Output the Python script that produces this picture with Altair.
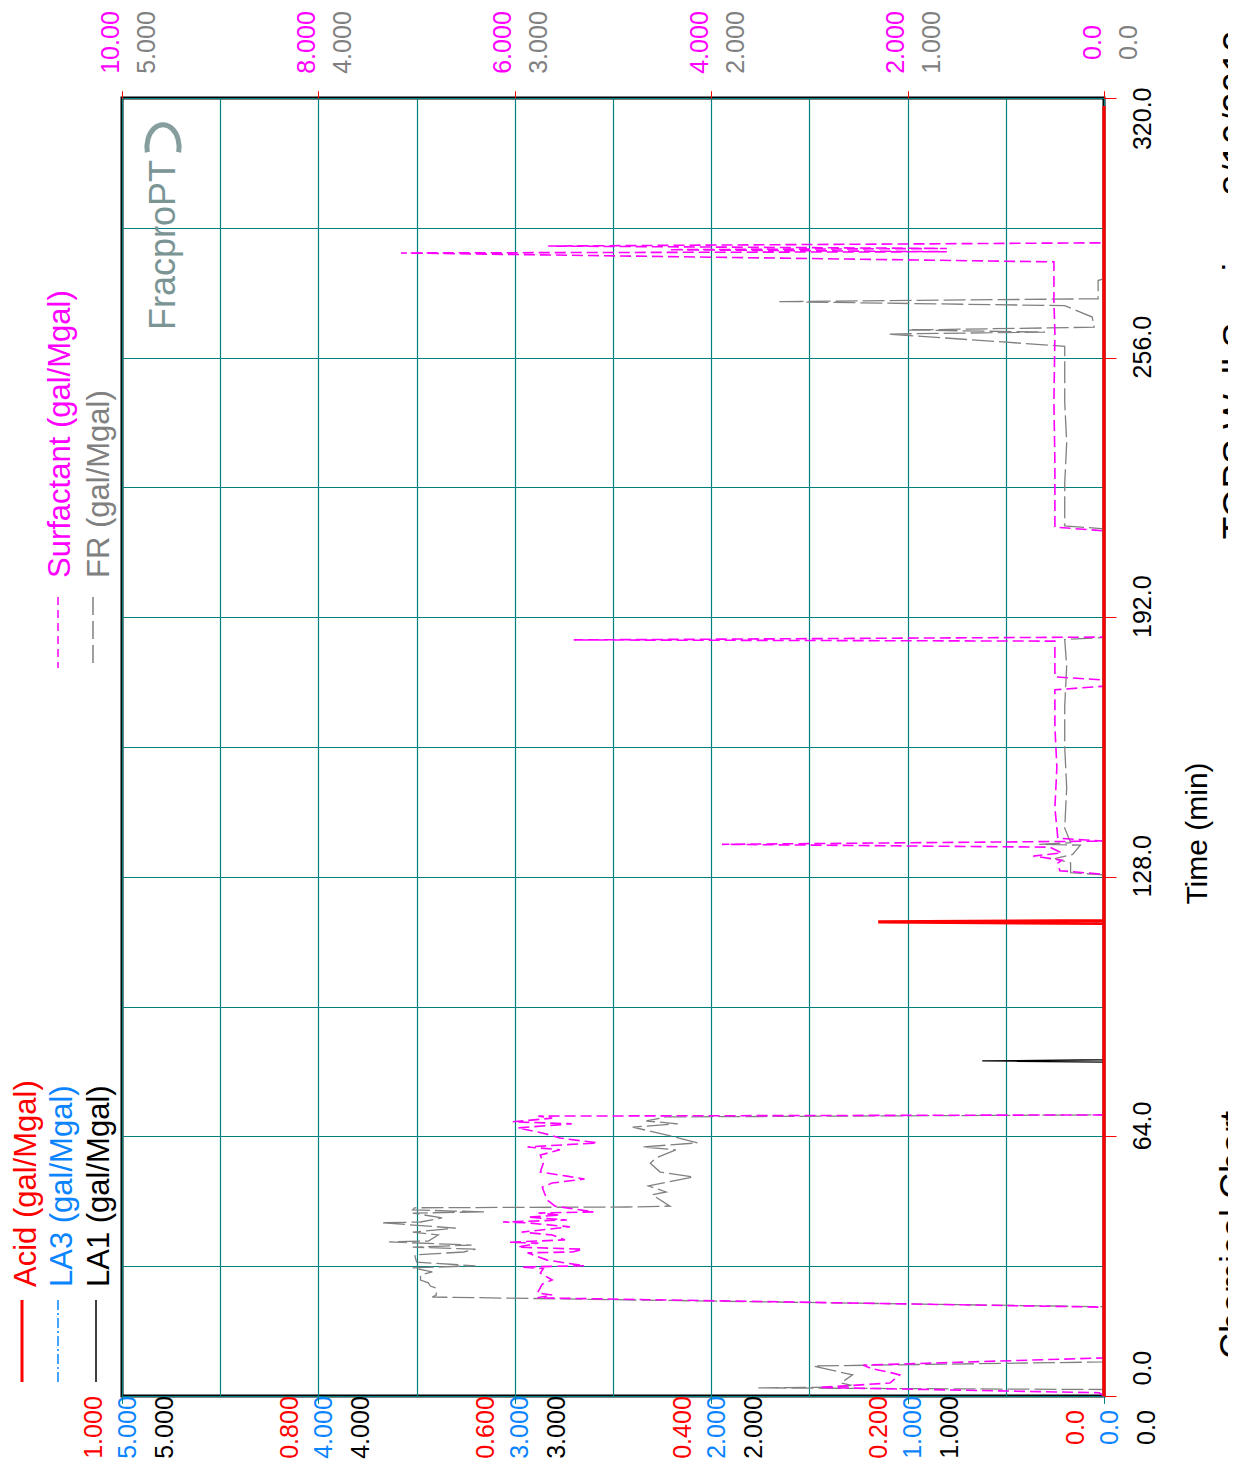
import altair as alt
import pandas as pd

FONT = "Liberation Sans, Arial, sans-serif"

# ---------------- data (time in minutes, value in gal/Mgal) ----------------
acid_t = [0.0, 116.5, 116.9, 117.2, 318.0]
acid_v = [0.0, 0.0, 0.23, 0.0, 0.0]

la3_t = [0.0, 116.2, 116.6, 117.3, 318.0]
la3_v = [0.0, 0.0, 0.06, 0.0, 0.0]

la1_t = [0.0, 82.3, 82.6, 82.9, 318.0]
la1_v = [0.0, 0.0, 0.62, 0.0, 0.0]

surf_t = [0.0, 0.8, 2.1, 3.2, 5.2, 5.7, 6.7, 7.6, 9.4, 21.9,
          24.2, 24.9, 25.4, 27.6, 28.6, 30.3, 31.4, 31.8, 32.1, 33.5,
          35.3, 35.5, 36.2, 36.7, 37.7, 37.9, 38.5, 39.7, 40.4, 41.7,
          42.7, 42.9, 43.4, 44.1, 44.6, 45.1, 45.4, 46.8, 48.3, 50.8,
          51.5, 52.5, 53.5, 54.2, 55.2, 57.4, 59.4, 60.7, 61.4, 62.4,
          63.6, 64.8, 66.1, 67.1, 67.6, 68.5, 69.0, 69.3,
          128.6, 129.5, 131.4, 132.1, 133.1, 133.9, 135.3, 136.0, 136.8, 137.5,
          145.0, 155.0, 165.0, 174.1, 175.0, 176.5, 177.3, 186.1, 186.4, 187.1,
          213.3, 214.2, 230.0, 245.0, 262.0, 270.0, 279.6, 281.8, 282.1, 282.6,
          282.9, 283.5, 284.3, 318.0]
surf_v = [0.0, 0.05, 2.90, 2.18, 2.08, 2.16, 2.36, 2.45, 0.0, 0.0,
          5.77, 5.62, 5.77, 5.72, 5.62, 5.74, 5.71, 5.93, 5.29, 5.67,
          5.87, 5.41, 5.31, 5.97, 5.76, 6.05, 5.49, 5.62, 5.93, 5.44,
          5.88, 6.12, 5.47, 5.87, 5.54, 5.76, 5.20, 5.59, 5.67, 5.71,
          5.72, 5.62, 5.29, 5.47, 5.74, 5.71, 5.74, 5.54, 5.87, 5.16,
          5.54, 5.71, 5.97, 5.42, 6.02, 5.62, 5.76, 0.0,
          0.0, 0.45, 0.47, 0.43, 0.72, 0.43, 0.55, 3.89, 0.0, 0.47,
          0.50, 0.48, 0.50, 0.50, 0.0, 0.0, 0.50, 0.50, 5.40, 0.0,
          0.0, 0.50, 0.50, 0.51, 0.50, 0.51, 0.51, 7.16, 1.60, 4.43,
          1.60, 5.66, 0.0, 0.0]

fr_t = [0.0, 1.6, 2.0, 2.2, 2.7, 3.2, 5.2, 7.4, 8.4, 22.0,
        24.4, 24.9, 26.6, 27.1, 27.9, 28.6, 29.8, 30.6, 31.6, 32.1,
        33.0, 34.8, 35.5, 36.2, 36.7, 37.2, 38.0, 38.2, 39.7, 40.4,
        41.4, 42.7, 42.9, 43.9, 45.1, 45.4, 45.6, 45.9, 46.4, 46.6,
        46.8, 49.6, 50.3, 51.8, 54.0, 55.2, 57.4, 58.7, 60.7, 61.4,
        62.4, 63.9, 66.3, 67.1, 67.8, 68.8, 69.3,
        128.5, 129.0, 131.4, 132.5, 133.5, 135.8, 136.0, 136.4, 140.0, 150.0,
        160.0, 170.0, 180.0, 186.5, 187.0, 213.8, 214.5, 225.0, 235.0, 245.0,
        258.8, 261.8, 262.3, 262.8, 263.5, 266.0, 268.8, 269.8, 270.5, 275.0,
        275.5, 318.0]
fr_v = [0.0, 0.0, 1.76, 1.32, 1.29, 1.34, 1.28, 1.48, 0.0, 0.0,
        3.42, 3.40, 3.40, 3.43, 3.44, 3.48, 3.48, 3.42, 3.52, 3.20,
        3.50, 3.51, 3.26, 3.20, 3.52, 3.22, 3.64, 3.44, 3.39, 3.52,
        3.30, 3.68, 3.48, 3.37, 3.52, 3.15, 3.31, 3.52, 3.51, 2.43,
        2.21, 2.30, 2.23, 2.32, 2.09, 2.26, 2.31, 2.28, 2.18, 2.35,
        2.07, 2.19, 2.40, 2.17, 2.33, 2.23, 0.0,
        0.0, 0.17, 0.17, 0.25, 0.16, 0.12, 0.33, 0.17, 0.20, 0.19,
        0.20, 0.20, 0.19, 0.20, 0.0, 0.0, 0.20, 0.20, 0.19, 0.20,
        0.20, 1.10, 0.30, 1.00, 0.05, 0.06, 0.20, 1.66, 0.03, 0.03,
        0.0, 0.0]

time_grid = list(range(0, 321, 32))
acid_ticks = [0.0, 0.2, 0.4, 0.6, 0.8, 1.0]
la_ticks = [0, 1, 2, 3, 4, 5]
surf_ticks = [0, 2, 4, 6, 8, 10]
value_grid = [i / 10 for i in range(11)]

legend_left = ["Acid (gal/Mgal)", "LA3 (gal/Mgal)", "LA1 (gal/Mgal)"]
legend_right = ["Surfactant (gal/Mgal)", "FR (gal/Mgal)"]
title_time = "Time (min)"
title_chart = "Chemical Chart"
title_company = "TOPS Well Services 8/19/2013"
logo_text = "FracproPT"

RED = "#FF0000"
BLUE = "#0A84FF"
BLACK = "#000000"
MAGENTA = "#FF00FF"
GRAY = "#808080"
TEAL = "#008080"
LOGO = "#7b9494"

W, H = 982, 1298
TICK_FS = 25

def frame(t, v):
    return pd.DataFrame({"t": t, "v": v})

def yscale():
    return alt.Scale(domain=[0, 320], nice=False, zero=False)

def bottom_axis(values, color, offset, expr):
    return alt.Axis(orient="bottom", values=values, labelExpr=expr, labelColor=color,
                    labelFont=FONT, labelFontSize=TICK_FS, labelAngle=270, labelAlign="center",
                    labelBaseline="middle", labelOffset=offset, labelPadding=24,
                    tickColor=TEAL, tickSize=7, tickWidth=1, labelFlush=False,
                    labelOverlap=False, grid=False, domain=False, title=None)

def top_axis(values, color, offset, expr):
    return alt.Axis(orient="top", values=values, labelExpr=expr, labelColor=color,
                    labelFont=FONT, labelFontSize=TICK_FS, labelAngle=270, labelAlign="center",
                    labelBaseline="middle", labelOffset=offset, labelPadding=49,
                    tickColor=RED, tickSize=7, tickWidth=1, labelFlush=False,
                    labelOverlap=False, grid=False, domain=False, title=None)

def right_axis(values, align, title=None):
    if title:
        kw = dict(title=title, titleAngle=270, titleFont=FONT, titleFontSize=30,
                  titleFontWeight="normal", titleColor=BLACK, titleX=93, titleY=735,
                  titleAlign="center", titleBaseline="middle")
    else:
        kw = dict(title=None)
    return alt.Axis(orient="right", values=values, format=".1f", labelColor=BLACK,
                    labelFont=FONT, labelFontSize=TICK_FS, labelAngle=270, labelAlign=align,
                    labelBaseline="middle", labelOffset=-11, labelPadding=26,
                    tickColor=RED, tickSize=12, tickWidth=1, labelFlush=False,
                    labelOverlap=False, grid=False, domain=False, **kw)

expr3 = "datum.value == 0 ? '0.0' : (datum.value >= 10 ? format(datum.value, '.2f') : format(datum.value, '.3f'))"

# grid layer
grid = alt.Chart(frame(acid_t, acid_v)).mark_line(strokeOpacity=0).encode(
    x=alt.X("v:Q", scale=alt.Scale(domain=[0, 1], reverse=True, nice=False, zero=False),
            axis=alt.Axis(orient="bottom", values=value_grid, grid=True, gridColor=TEAL,
                          gridWidth=1.2, gridOpacity=1, labels=False, ticks=False,
                          domain=False, title=None)),
    y=alt.Y("t:Q", scale=yscale(),
            axis=alt.Axis(orient="left", values=time_grid, grid=True, gridColor=TEAL,
                          gridWidth=1.2, gridOpacity=1, labels=False, ticks=False,
                          domain=False, title=None)),
    order=alt.Order("t:Q"),
)

fr = alt.Chart(frame(fr_t, fr_v)).mark_line(color=GRAY, strokeWidth=1.3, strokeDash=[22, 5]).encode(
    x=alt.X("v:Q", scale=alt.Scale(domain=[0, 5], reverse=True, nice=False, zero=False),
            axis=top_axis(la_ticks, GRAY, 24, expr3)),
    y=alt.Y("t:Q", scale=yscale(), axis=None),
    order=alt.Order("t:Q"),
)

surf = alt.Chart(frame(surf_t, surf_v)).mark_line(color=MAGENTA, strokeWidth=1.6, strokeDash=[11, 5]).encode(
    x=alt.X("v:Q", scale=alt.Scale(domain=[0, 10], reverse=True, nice=False, zero=False),
            axis=top_axis(surf_ticks, MAGENTA, -12, expr3)),
    y=alt.Y("t:Q", scale=yscale(), axis=None),
    order=alt.Order("t:Q"),
)

la1 = alt.Chart(frame(la1_t, la1_v)).mark_line(color=BLACK, strokeWidth=1.3).encode(
    x=alt.X("v:Q", scale=alt.Scale(domain=[0, 5], reverse=True, nice=False, zero=False),
            axis=bottom_axis(la_ticks, BLACK, 42, expr3)),
    y=alt.Y("t:Q", scale=yscale(), axis=right_axis([320], "right")),
    order=alt.Order("t:Q"),
)

la3 = alt.Chart(frame(la3_t, la3_v)).mark_line(color=BLUE, strokeWidth=1.3, strokeDash=[10, 3, 2, 3]).encode(
    x=alt.X("v:Q", scale=alt.Scale(domain=[0, 5], reverse=True, nice=False, zero=False),
            axis=bottom_axis(la_ticks, BLUE, 5, expr3)),
    y=alt.Y("t:Q", scale=yscale(), axis=right_axis([0], "left")),
    order=alt.Order("t:Q"),
)

acid = alt.Chart(frame(acid_t, acid_v)).mark_line(color=RED, strokeWidth=3.2).encode(
    x=alt.X("v:Q", scale=alt.Scale(domain=[0, 1], reverse=True, nice=False, zero=False),
            axis=bottom_axis(acid_ticks, RED, -29, expr3)),
    y=alt.Y("t:Q", scale=yscale(), axis=right_axis([64, 128, 192, 256], "center", title_time)),
    order=alt.Order("t:Q"),
)

def text_layer(txt, x, y, color, size, align="left", baseline="middle"):
    return alt.Chart(pd.DataFrame({"label": [txt]})).mark_text(
        angle=270, align=align, baseline=baseline, font=FONT, fontSize=size, color=color
    ).encode(x=alt.value(x), y=alt.value(y), text="label:N")

def sample_layer(x, y1, y2, color, width, dash=None):
    kw = dict(color=color, strokeWidth=width)
    if dash:
        kw["strokeDash"] = dash
    return alt.Chart(pd.DataFrame({"k": [0]})).mark_rule(**kw).encode(
        x=alt.value(x), y=alt.value(y1), y2=alt.value(y2))

swoosh = alt.Chart(pd.DataFrame({"k": [0]})).mark_point(
    shape="M -0.7,0.55 A 0.72,1 0 1,1 0.7,0.55", filled=False, stroke=LOGO,
    strokeWidth=5, opacity=0.9, size=2000
).encode(x=alt.value(41), y=alt.value(42))

texts = [
    text_layer(legend_left[0], -95, 1189, RED, 31),
    text_layer(legend_left[1], -59, 1189, BLUE, 31),
    text_layer(legend_left[2], -22, 1189, BLACK, 31),
    text_layer(legend_right[0], -61, 480, MAGENTA, 31),
    text_layer(legend_right[1], -22, 480, GRAY, 31),
    text_layer(logo_text, 42, 232, LOGO, 36),
    text_layer(title_chart, 1124, 1137, BLACK, 36, align="center", baseline="alphabetic"),
    text_layer(title_company, 1127, 187, BLACK, 37, align="center", baseline="alphabetic"),
    sample_layer(-100, 1202, 1284, RED, 3),
    sample_layer(-64, 1202, 1284, BLUE, 1.5, [10, 3, 2, 3]),
    sample_layer(-26, 1202, 1284, BLACK, 1.5),
    sample_layer(-64, 499, 570, MAGENTA, 1.5, [8, 5]),
    sample_layer(-29, 499, 570, GRAY, 1.5, [18, 6]),
    swoosh,
]

chart = alt.layer(grid, fr, surf, la1, la3, acid, *texts).resolve_scale(
    x="independent"
).resolve_axis(
    x="independent", y="independent"
).properties(
    width=W, height=H,
    autosize=alt.AutoSizeParams(type="none"),
    padding={"left": 114, "top": 90, "right": 124, "bottom": 64},
    background="white",
).configure_view(stroke="black", strokeWidth=3)

chart.save("out.html", embed_options={"renderer": "svg", "actions": False})
